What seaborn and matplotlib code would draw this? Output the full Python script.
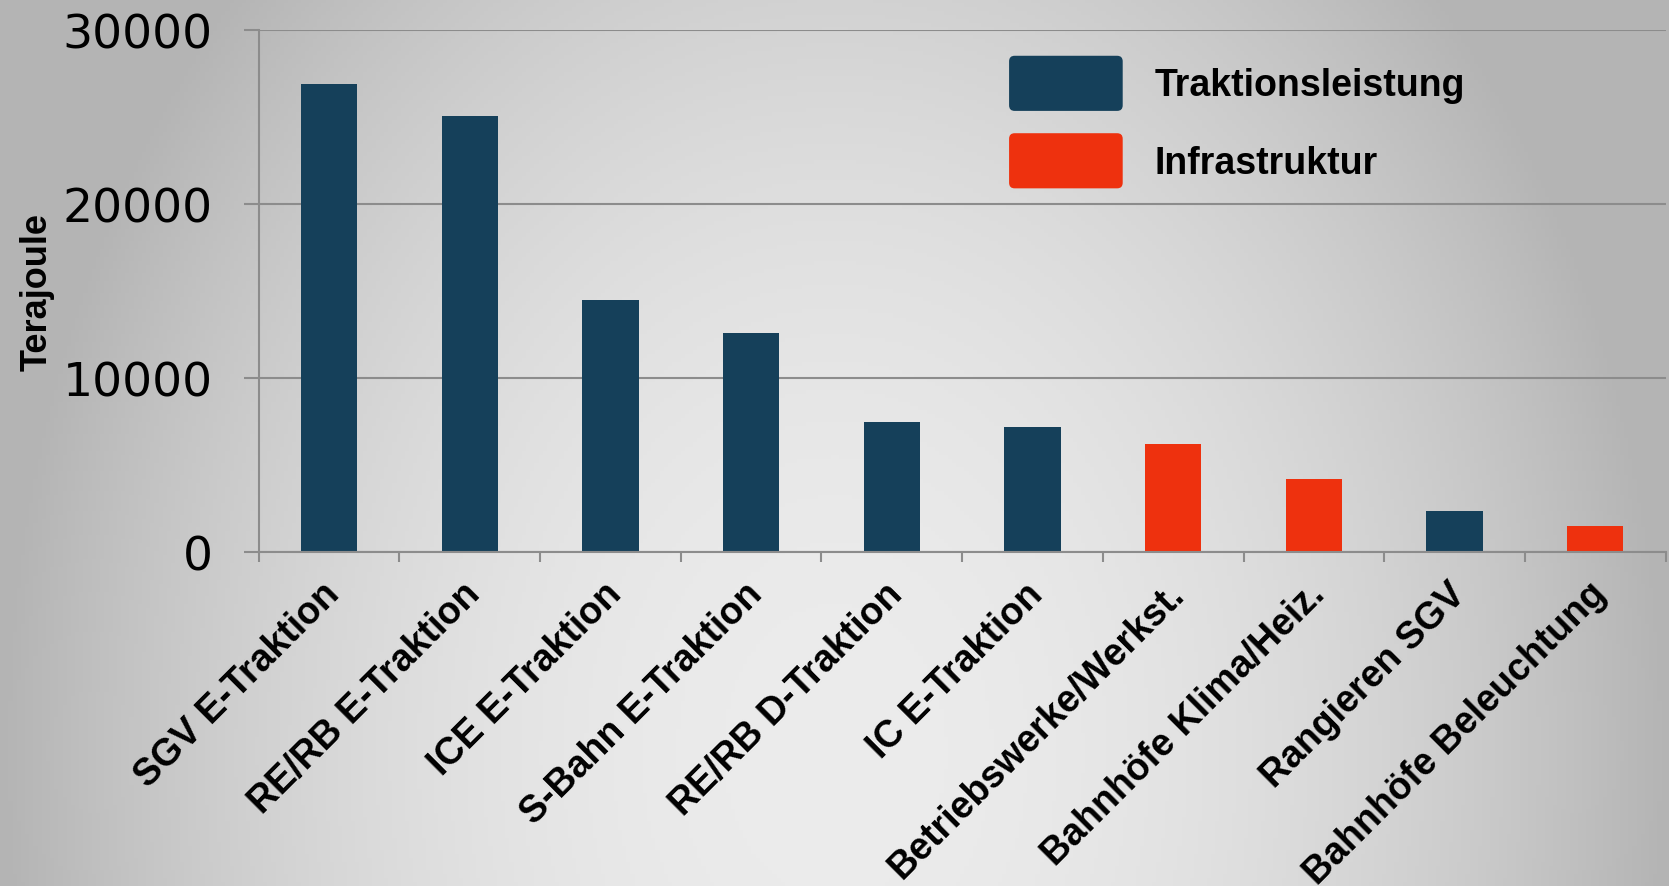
import numpy as np
import pandas as pd
import matplotlib
matplotlib.use("Agg")
import matplotlib.pyplot as plt
import matplotlib.transforms as mtransforms
import seaborn as sns
from matplotlib.patches import FancyBboxPatch, Patch
from matplotlib.legend_handler import HandlerPatch

categories = ["SGV E-Traktion", "RE/RB E-Traktion", "ICE E-Traktion", "S-Bahn E-Traktion",
              "RE/RB D-Traktion", "IC E-Traktion", "Betriebswerke/Werkst.",
              "Bahnhöfe Klima/Heiz.", "Rangieren SGV", "Bahnhöfe Beleuchtung"]
values = [26900, 25050, 14500, 12600, 7500, 7200, 6230, 4220, 2380, 1530]
groups = ["Traktionsleistung"] * 6 + ["Infrastruktur"] * 2 + ["Traktionsleistung", "Infrastruktur"]
series_names = ["Traktionsleistung", "Infrastruktur"]
series_colors = ["#15405a", "#ee310e"]
y_ticks = [0, 10000, 20000, 30000]

df = pd.DataFrame({"cat": categories, "val": values, "grp": groups})
palette = dict(zip(series_names, series_colors))

sns.set_style("white")
plt.rcParams["font.family"] = ["DejaVu Sans"]
plt.rcParams["text.color"] = "black"
plt.rcParams["axes.labelcolor"] = "black"
plt.rcParams["xtick.color"] = "black"
plt.rcParams["ytick.color"] = "black"

W, H, DPI = 1669, 887, 100
fig = plt.figure(figsize=(W / DPI, H / DPI), dpi=DPI)

# background radial gradient
bg = fig.add_axes([0, 0, 1, 1], zorder=-10)
xx, yy = np.meshgrid(np.linspace(0, 1, 400), np.linspace(0, 1, 220))
d2 = ((xx - 0.5) / 0.5) ** 2 + ((yy - 0.85) / 1.25) ** 2
g = np.clip(236 - 56 * d2, 180, 240) / 255.0
bg.imshow(np.dstack([g, g, g]), extent=[0, 1, 0, 1], aspect="auto", origin="upper")
bg.axis("off")

ax = fig.add_axes([0.155, 0.376, 0.843, 0.589])
ax.set_facecolor("none")
sns.barplot(data=df, x="cat", y="val", hue="grp", palette=palette, dodge=False,
            width=0.4, ax=ax, order=categories, hue_order=series_names, saturation=1,
            linewidth=0, edgecolor="none")

ax.set_ylim(0, 30000)
ax.set_xlim(-0.5, len(categories) - 0.5)
ax.set_yticks(y_ticks)
ax.set_yticklabels([str(t) for t in y_ticks], fontsize=34, color="black")
ax.tick_params(axis="y", left=True, length=11, width=1.5, color="#8c8c8c", pad=22,
               labelcolor="black", direction="out")
ax.yaxis.grid(True, color="#8c8c8c", linewidth=1.5)
ax.set_axisbelow(True)

# x ticks at boundaries, labels at centres
ax.set_xticks(np.arange(-0.5, len(categories), 1.0))
ax.set_xticklabels([])
ax.set_xticks(np.arange(len(categories)), minor=True)
ax.set_xticklabels(categories, minor=True, rotation=45, ha="right", va="top",
                   rotation_mode="anchor", fontsize=27, fontweight="bold",
                   family="Liberation Sans", color="black")
ax.tick_params(axis="x", which="major", bottom=True, length=7, width=1.5, color="#8c8c8c",
               direction="out")
ax.tick_params(axis="x", which="minor", bottom=True, length=0, pad=16.5)
offset = mtransforms.ScaledTranslation(-7.5 / DPI, 0, fig.dpi_scale_trans)
for lab in ax.get_xticklabels(minor=True):
    lab.set_transform(lab.get_transform() + offset)

for s in ["top", "right"]:
    ax.spines[s].set_visible(False)
for s in ["left", "bottom"]:
    ax.spines[s].set_color("#8c8c8c")
    ax.spines[s].set_linewidth(1.5)

ax.set_xlabel("")
ax.set_ylabel("Terajoule", fontsize=26, fontweight="bold", family="Liberation Sans",
              labelpad=6, color="black")


class RoundHandler(HandlerPatch):
    def create_artists(self, legend, orig_handle, xdescent, ydescent, width, height, fontsize, trans):
        p = FancyBboxPatch((-xdescent, -ydescent), width, height,
                           boxstyle="round,pad=0,rounding_size=4",
                           facecolor=orig_handle.get_facecolor(), edgecolor="none", transform=trans)
        return [p]


handles = [Patch(facecolor=c, label=n) for n, c in zip(series_names, series_colors)]
old = ax.get_legend()
if old is not None:
    old.remove()
leg = fig.legend(handles=handles, loc="upper left", bbox_to_anchor=(0.6046, 0.936),
                 frameon=False, prop={"family": "Liberation Sans", "weight": "bold", "size": 27},
                 handlelength=3.03, handleheight=1.885, handletextpad=0.85, labelspacing=0.595,
                 borderpad=0, borderaxespad=0,
                 handler_map={Patch: RoundHandler()})
for t in leg.get_texts():
    t.set_color("black")

fig.savefig("out.png", dpi=DPI)
